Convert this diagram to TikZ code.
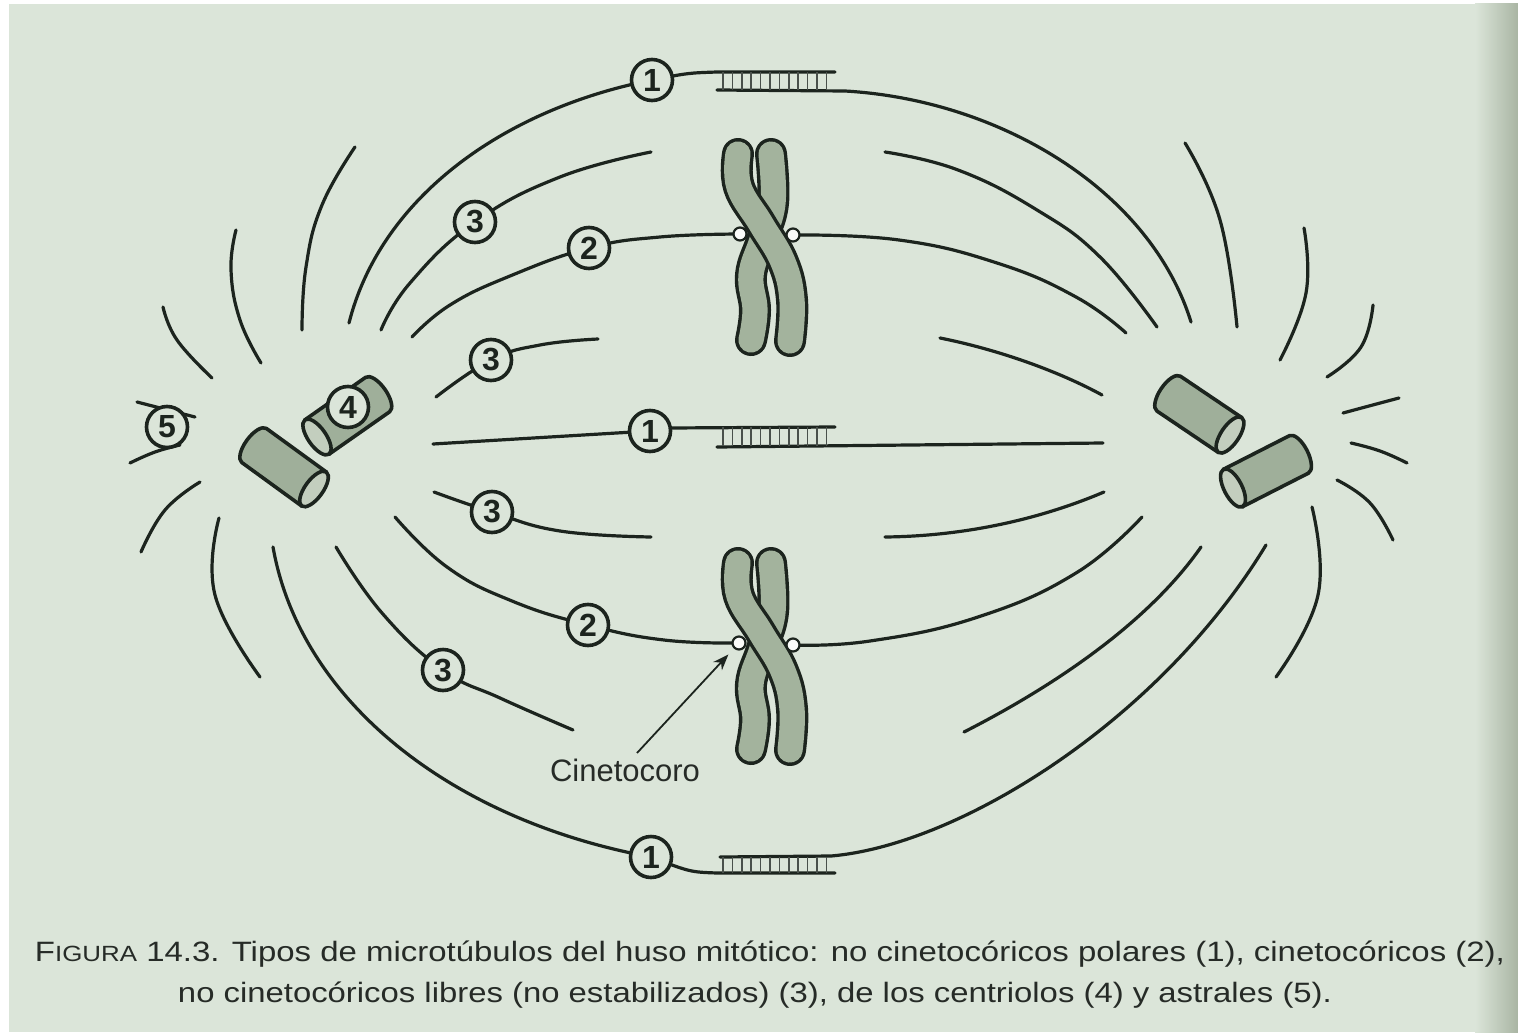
\documentclass[tikz,border=0pt]{standalone}
\usepackage{fontspec}
\setmainfont{Liberation Sans}
\usetikzlibrary{arrows.meta}
\definecolor{bg}{HTML}{DBE5D9}
\definecolor{edgeshade}{HTML}{A9B5A3}
\definecolor{ink}{HTML}{1C241E}
\definecolor{tubebody}{HTML}{9FAF9A}
\definecolor{tubecap}{HTML}{C3CEBE}
\definecolor{chromofill}{HTML}{A3B39D}
\definecolor{txt}{HTML}{262B27}

% centriole: flat (visible) end centred at (#1,#2), axis pointing at angle #3
\newcommand\centriole[3]{%
  \begin{scope}[shift={(#1,#2)}, rotate=#3]
    \draw[draw=ink, fill=tubebody, line width=1.8pt, line join=round]
      (0,21) -- (-74,21) arc[start angle=90, end angle=270, x radius=9, y radius=21]
      -- (0,-21) -- cycle;
    \draw[draw=ink, fill=tubecap, line width=1.8pt] (0,0) ellipse[x radius=9, y radius=21];
  \end{scope}}

% one chromosome: two crossed chromatids, shifted down by #1
\newcommand\chromopair[1]{%
  \begin{scope}[shift={(0,#1)}]
    \draw[ink, line width=16pt, line cap=round]
      plot[smooth, tension=0.7] coordinates {(771,154) (773,203) (762,240) (751,275) (755,310) (751,340)};
    \draw[chromofill, line width=12.6pt, line cap=round]
      plot[smooth, tension=0.7] coordinates {(771,154) (773,203) (762,240) (751,275) (755,310) (751,340)};
    \draw[ink, line width=16pt, line cap=round]
      plot[smooth, tension=0.7] coordinates {(738,154) (739,187) (761,224) (783,262) (792,300) (790,341)};
    \draw[chromofill, line width=12.6pt, line cap=round]
      plot[smooth, tension=0.7] coordinates {(738,154) (739,187) (761,224) (783,262) (792,300) (790,341)};
  \end{scope}}

\begin{document}
\begin{tikzpicture}[x=0.5pt, y=-0.5pt,
  mt/.style={draw=ink, line width=1.6pt, line cap=round, line join=round},
  sm/.style={smooth, tension=0.75},
  rung/.style={draw=ink!80, line width=0.8pt},
  num/.style={circle, draw=ink, line width=1.8pt, fill=bg, minimum size=20.5pt,
              inner sep=0pt, text=ink, font=\fontsize{16}{16}\selectfont\bfseries},
  kin/.style={circle, draw=ink, line width=1.1pt, fill=white!85!bg, minimum size=6.5pt, inner sep=0pt}]

\useasboundingbox (0,0) rectangle (1518,1032);
\fill[white] (0,0) rectangle (1518,1032);
\fill[bg] (9,4) rectangle (1518,1032);
\shade[left color=bg, right color=edgeshade] (1475,4) rectangle (1518,1032);

% ---- astral microtubules, left pole
\draw[mt] plot[sm] coordinates {(163,307) (177,340) (212,378)};
\draw[mt] plot[sm] coordinates {(236,230) (231,270) (240,320) (261,363)};
\draw[mt] plot[sm] coordinates {(355,147) (322,205) (306,267) (302,330)};
\draw[mt] (137,402) -- (195,417);
\draw[mt] plot[sm] coordinates {(130,463) (155,452) (180,445)};
\draw[mt] plot[sm] coordinates {(200,482) (165,510) (141,552)};
\draw[mt] plot[sm] coordinates {(219,518) (215,595) (260,677)};

% ---- astral microtubules, right pole
\draw[mt] plot[sm] coordinates {(1185,143) (1220,220) (1237,327)};
\draw[mt] plot[sm] coordinates {(1304,228) (1306,293) (1280,360)};
\draw[mt] plot[sm] coordinates {(1373,305) (1361,347) (1327,377)};
\draw[mt] plot[sm] coordinates {(1399,398) (1369,406) (1343,413)};
\draw[mt] plot[sm] coordinates {(1351,443) (1380,451) (1407,463)};
\draw[mt] plot[sm] coordinates {(1337,480) (1370,503) (1393,540)};
\draw[mt] plot[sm] coordinates {(1312,507) (1318,595) (1276,677)};

% ---- polar microtubules (1), overlapping at the equator
\draw[mt] (349,323) .. controls (380,200) and (500,110) .. (652,80)
          .. controls (688,73) .. (717,72) -- (835,72);
\draw[mt] (717,90) -- (845,91) .. controls (1000,100) and (1150,190) .. (1191,322);
\foreach \i in {0,...,11} \draw[rung] ({723+9.4*\i},72) -- ({723+9.4*\i},90);

\draw[mt] (433,444) -- (650,431) -- (670,428) -- (835,427);
\draw[mt] (717,447) -- (1103,443);
\foreach \i in {0,...,11} \draw[rung] ({723+9.4*\i},427) -- ({723+9.4*\i},446);

\draw[mt] (273,547) .. controls (300,700) and (450,820) .. (651,857)
          .. controls (690,872) .. (717,873) -- (835,873);
\draw[mt] (720,857) -- (831,856) .. controls (960,845) and (1160,720) .. (1266,545);
\foreach \i in {0,...,11} \draw[rung] ({723+9.4*\i},857) -- ({723+9.4*\i},873);

% ---- kinetochore microtubules (2)
\draw[mt] plot[sm] coordinates {(412,337) (450,305) (510,276) (589,248) (660,237) (740,234)};
\draw[mt] plot[sm] coordinates {(793,235) (899,240) (997,263) (1076,297) (1126,333)};
\draw[mt] plot[sm] coordinates {(395,517) (447,567) (512,601) (588,625) (664,640) (739,643)};
\draw[mt] plot[sm] coordinates {(793,645) (870,641) (978,617) (1076,573) (1142,517)};

% ---- free microtubules (3)
\draw[mt] plot[sm] coordinates {(381,330) (410,283) (475,222) (560,177) (651,152)};
\draw[mt] plot[sm] coordinates {(436,397) (491,360) (540,345) (598,339)};
\draw[mt] plot[sm] coordinates {(434,492) (492,512) (560,531) (651,537)};
\draw[mt] plot[sm] coordinates {(336,547) (382,613) (443,670) (500,698) (573,730)};
\draw[mt] plot[sm] coordinates {(885,152) (958,170) (1037,210) (1100,257) (1157,327)};
\draw[mt] (940,338) .. controls (1000,350) and (1060,372) .. (1102,395);
\draw[mt] (885,537) .. controls (975,536) and (1050,515) .. (1104,492);
\draw[mt] (964,732) .. controls (1060,683) and (1150,620) .. (1201,547);

% ---- chromosomes and kinetochores
\chromopair{0}
\chromopair{409}
\node[kin] (k1) at (740,234) {};
\node[kin] (k2) at (793,235) {};
\node[kin] (k3) at (739,643) {};
\node[kin] (k4) at (793,645) {};

% ---- centrioles
\centriole{314}{489}{-36}
\centriole{317}{437}{215}
\centriole{1230}{435}{-34}
\centriole{1233}{488}{207}

% ---- numbered labels
\node[num] (lab1a) at (652,80)  {1};
\node[num] (lab3a) at (475,222) {3};
\node[num] (lab2a) at (589,248) {2};
\node[num] (lab3b) at (491,360) {3};
\node[num] (lab4)  at (348,407) {4};
\node[num] (lab5)  at (167,427) {5};
\node[num] (lab1b) at (650,431) {1};
\node[num] (lab3c) at (492,512) {3};
\node[num] (lab2b) at (588,625) {2};
\node[num] (lab3d) at (443,670) {3};
\node[num] (lab1c) at (651,857) {1};

% ---- kinetochore callout
\node[anchor=base, text=txt, font=\fontsize{15.5}{16}\selectfont] (cineto) at (625,781) {Cinetocoro};
\coordinate (cinetofoot) at (637,753);
\draw[ink, line width=0.9pt, -{Stealth[length=8pt, width=6pt]}, shorten >=4pt] (cinetofoot) -- (k3);

% ---- caption
\node[anchor=base, text=txt, inner sep=0pt] (cap1) at (770,961)
  {\resizebox{735pt}{\height}{\fontsize{14}{16}\selectfont F{\fontsize{11}{16}\selectfont IGURA} 14.3. Tipos de microtúbulos del huso mitótico: no cinetocóricos polares (1), cinetocóricos (2),}};
\node[anchor=base, text=txt, inner sep=0pt] (cap2) at (755,1002)
  {\resizebox{577pt}{\height}{\fontsize{14}{16}\selectfont no cinetocóricos libres (no estabilizados) (3), de los centriolos (4) y astrales (5).}};

\end{tikzpicture}
\end{document}
